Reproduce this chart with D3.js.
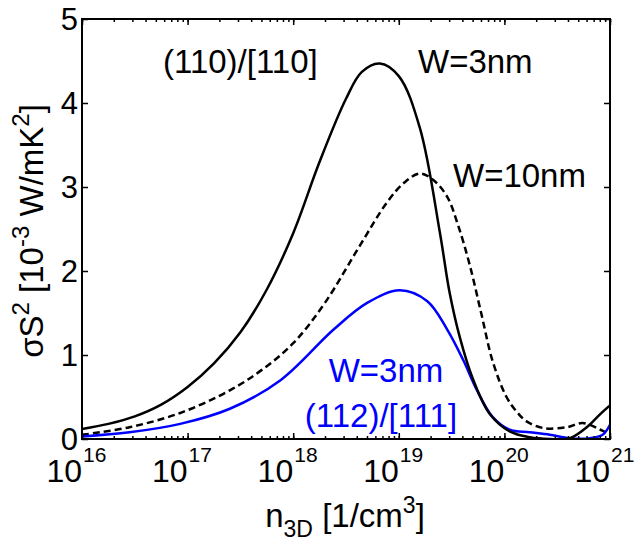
<!DOCTYPE html>
<meta charset="utf-8">
<title>Power factor vs carrier density</title>
<style>

body {
  margin: 0;
  background: #fff;
}

text {
  font-family: "Liberation Sans", Arial, sans-serif;
}

</style>
<svg width="643" height="547"></svg>
<script src="https://d3js.org/d3.v7.min.js"></script>
<script>
// x values are log10(n3D [1/cm^3]), y values are sigma*S^2 in 1e-3 W/mK^2

// (110)/[110], W=3nm, solid black
var logN110w3 = [16.00, 16.25, 16.50, 16.75, 17.00, 17.25, 17.50, 17.75, 18.00, 18.25, 18.50, 18.65, 18.82, 19.00, 19.20, 19.39, 19.48, 19.58, 19.70, 19.86, 20.05, 20.24, 20.43, 20.62, 20.78, 20.91, 21.00];
var pf110w3    = [0.12, 0.18, 0.27, 0.41, 0.62, 0.90, 1.27, 1.78, 2.45, 3.30, 4.05, 4.37, 4.47, 4.32, 3.70, 2.45, 1.75, 1.20, 0.72, 0.30, 0.09, 0.02, 0.00, 0.01, 0.14, 0.30, 0.40];

// (110)/[110], W=10nm, dashed black
var logN110w10 = [16.00, 16.45, 16.93, 17.40, 17.70, 18.00, 18.30, 18.63, 18.89, 19.05, 19.20, 19.33, 19.46, 19.56, 19.67, 19.78, 19.89, 20.02, 20.12, 20.21, 20.37, 20.59, 20.74, 20.91, 21.00];
var pf110w10   = [0.05, 0.14, 0.31, 0.58, 0.82, 1.14, 1.62, 2.30, 2.82, 3.05, 3.16, 3.08, 2.88, 2.55, 2.08, 1.50, 0.92, 0.50, 0.32, 0.21, 0.13, 0.14, 0.19, 0.11, 0.05];

// (112)/[111], W=3nm, blue
var logN112w3 = [16.00, 16.45, 16.93, 17.40, 17.88, 18.38, 18.70, 19.01, 19.27, 19.46, 19.61, 19.74, 19.89, 20.05, 20.24, 20.43, 20.62, 20.81, 20.93, 21.00];
var pf112w3   = [0.03, 0.08, 0.18, 0.36, 0.70, 1.30, 1.62, 1.77, 1.64, 1.30, 0.94, 0.58, 0.26, 0.11, 0.08, 0.05, 0.01, 0.01, 0.05, 0.17];

var xExponents = [16, 17, 18, 19, 20, 21];
var yTicks = [0, 1, 2, 3, 4, 5];

var svg = d3.select("svg");
var plotL = 82, plotR = 610, plotT = 19, plotB = 439;

var x = d3.scaleLog()
    .domain([1e16, 1e21])
    .range([plotL, plotR]);

var y = d3.scaleLinear()
    .domain([0, 5])
    .range([plotB, plotT]);

function zip(logs, vals) {
  return logs.map(function(l, i) { return [Math.pow(10, l), vals[i]]; });
}

var line = d3.line()
    .x(function(d) { return x(d[0]); })
    .y(function(d) { return y(d[1]); })
    .curve(d3.curveCatmullRom.alpha(0.5));

svg.append("clipPath").attr("id", "clip")
  .append("rect")
    .attr("x", plotL)
    .attr("y", plotT)
    .attr("width", plotR - plotL)
    .attr("height", plotB - plotT);

var plot = svg.append("g").attr("clip-path", "url(#clip)");

plot.append("path")
    .datum(zip(logN110w10, pf110w10))
    .attr("d", line)
    .attr("fill", "none")
    .attr("stroke", "#000")
    .attr("stroke-width", 2.5)
    .attr("stroke-dasharray", "7,4");

plot.append("path")
    .datum(zip(logN112w3, pf112w3))
    .attr("d", line)
    .attr("fill", "none")
    .attr("stroke", "#0000ff")
    .attr("stroke-width", 2.5);

plot.append("path")
    .datum(zip(logN110w3, pf110w3))
    .attr("d", line)
    .attr("fill", "none")
    .attr("stroke", "#000")
    .attr("stroke-width", 2.5);

// frame
svg.append("rect")
    .attr("x", plotL)
    .attr("y", plotT)
    .attr("width", plotR - plotL)
    .attr("height", plotB - plotT)
    .attr("fill", "none")
    .attr("stroke", "#000")
    .attr("stroke-width", 2);

// inward ticks on all four sides, minor ones shorter
var allX = x.ticks();
var majorX = xExponents.map(function(e) { return Math.pow(10, e); });

function styleAxis(g) {
  g.select(".domain").remove();
  g.selectAll(".tick line").attr("stroke", "#000").attr("stroke-width", 1.5);
  g.selectAll(".tick text").remove();
}

svg.append("g").attr("transform", "translate(0," + plotB + ")")
    .call(d3.axisBottom(x).tickValues(allX).tickSize(-3)).call(styleAxis);
svg.append("g").attr("transform", "translate(0," + plotB + ")")
    .call(d3.axisBottom(x).tickValues(majorX).tickSize(-6)).call(styleAxis);
svg.append("g").attr("transform", "translate(0," + plotT + ")")
    .call(d3.axisTop(x).tickValues(allX).tickSize(-3)).call(styleAxis);
svg.append("g").attr("transform", "translate(0," + plotT + ")")
    .call(d3.axisTop(x).tickValues(majorX).tickSize(-6)).call(styleAxis);
svg.append("g").attr("transform", "translate(" + plotL + ",0)")
    .call(d3.axisLeft(y).tickValues(yTicks).tickSize(-6)).call(styleAxis);
svg.append("g").attr("transform", "translate(" + plotR + ",0)")
    .call(d3.axisRight(y).tickValues(yTicks).tickSize(-6)).call(styleAxis);

// y tick labels
svg.append("g").selectAll("text")
  .data(yTicks)
  .enter().append("text")
    .attr("x", plotL - 4)
    .attr("y", function(d) { return y(d) + 11; })
    .attr("text-anchor", "end")
    .attr("font-size", 31)
    .text(function(d) { return d; });

// x tick labels: 10 with exponent
var xl = svg.append("g").selectAll("g")
  .data(xExponents)
  .enter().append("g")
    .attr("transform", function(e) { return "translate(" + x(Math.pow(10, e)) + ",0)"; });

xl.append("text")
    .attr("x", 0)
    .attr("y", 482)
    .attr("text-anchor", "end")
    .attr("font-size", 32)
    .text("10");

xl.append("text")
    .attr("x", 1)
    .attr("y", 462)
    .attr("font-size", 21)
    .text(function(e) { return e; });

// axis titles
var xt = svg.append("text")
    .attr("x", 345)
    .attr("y", 527)
    .attr("text-anchor", "middle")
    .attr("font-size", 33);
xt.append("tspan").text("n");
xt.append("tspan").attr("font-size", 23).attr("dy", 10).text("3D");
xt.append("tspan").attr("dy", -10).text(" [1/cm");
xt.append("tspan").attr("font-size", 23).attr("dy", -14).text("3");
xt.append("tspan").attr("dy", 14).text("]");

var yt = svg.append("text")
    .attr("transform", "translate(43,231) rotate(-90)")
    .attr("text-anchor", "middle")
    .attr("font-size", 33);
yt.append("tspan").text("\u03c3S");
yt.append("tspan").attr("font-size", 24).attr("dy", -14).text("2");
yt.append("tspan").attr("dy", 14).text(" [10");
yt.append("tspan").attr("font-size", 24).attr("dy", -14).text("-3");
yt.append("tspan").attr("dy", 14).text(" W/mK");
yt.append("tspan").attr("font-size", 24).attr("dy", -14).text("2");
yt.append("tspan").attr("dy", 14).text("]");

// annotations
svg.append("text").attr("x", 163).attr("y", 73).attr("font-size", 33).text("(110)/[110]");
svg.append("text").attr("x", 418).attr("y", 73).attr("font-size", 33).text("W=3nm");
svg.append("text").attr("x", 453).attr("y", 187).attr("font-size", 33).text("W=10nm");
svg.append("text").attr("x", 386).attr("y", 382).attr("text-anchor", "middle")
    .attr("font-size", 33).attr("fill", "#0000ff").text("W=3nm");
svg.append("text").attr("x", 381).attr("y", 427).attr("text-anchor", "middle")
    .attr("font-size", 33).attr("fill", "#0000ff").text("(112)/[111]");

</script>
